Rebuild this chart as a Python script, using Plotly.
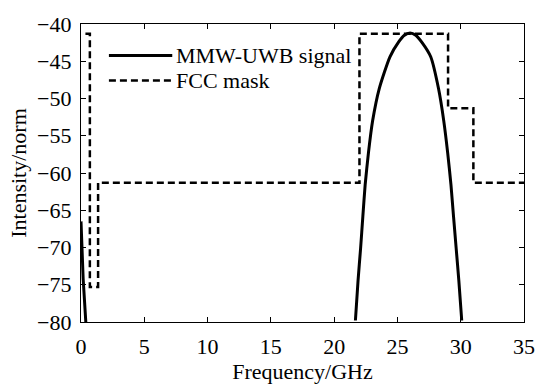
import plotly.graph_objects as go

# FCC mask (step corners, drawn with hv steps)
mask_x = [0.35, 0.7, 1.35, 22.0, 29.0, 31.0, 35.0]
mask_y = [-41.3, -75.3, -61.3, -41.3, -51.3, -61.3, -61.3]

# MMW-UWB signal spectrum
sig_low_x = [0.0, 0.17, 0.38]
sig_low_y = [-66.5, -74.2, -80.0]
sig_x = [21.68, 21.89, 22.09, 22.27, 22.45, 22.71, 23.04, 23.56, 24.41, 25.1, 25.55, 26.0,
         26.45, 26.95, 27.63, 28.25, 28.66, 28.97, 29.23, 29.43, 29.64, 29.85, 30.08]
sig_y = [-79.8, -74.4, -70.1, -65.8, -61.6, -57.3, -53.0, -48.7, -44.4, -42.4, -41.5, -41.2,
         -41.5, -42.5, -44.4, -48.7, -53.0, -57.3, -61.6, -65.8, -70.1, -74.4, -79.8]

x_ticks = [0, 5, 10, 15, 20, 25, 30, 35]
y_ticks = [-80, -75, -70, -65, -60, -55, -50, -45, -40]
legend_names = ["MMW-UWB signal", "FCC mask"]

FONT = "Liberation Serif, Times New Roman, serif"
FS = 22

fig = go.Figure()
fig.add_trace(go.Scatter(x=sig_low_x, y=sig_low_y, mode="lines",
                         line=dict(color="black", width=3),
                         showlegend=False))
fig.add_trace(go.Scatter(x=sig_x, y=sig_y, mode="lines",
                         line=dict(color="black", width=3, shape="spline", smoothing=0.6),
                         showlegend=False))
fig.add_trace(go.Scatter(x=mask_x, y=mask_y, mode="lines",
                         line=dict(color="black", width=2.5, dash="7px,4px", shape="hv"),
                         showlegend=False))

# manual legend
leg = [(0.063, 0.894, "solid", 3), (0.063, 0.810, "7px,4px", 2.5)]
for (x0, yy, dash, w), name in zip(leg, legend_names):
    fig.add_shape(type="line", xref="paper", yref="paper",
                  x0=x0, x1=x0 + 0.143, y0=yy, y1=yy,
                  line=dict(color="black", width=w, dash=dash))
    fig.add_annotation(xref="paper", yref="paper", x=x0 + 0.148, y=yy,
                       text=name, showarrow=False, xanchor="left", yanchor="middle",
                       font=dict(family=FONT, size=FS, color="black"))

axis_common = dict(showgrid=False, zeroline=False, showline=True, linecolor="black",
                   linewidth=1.2, mirror="ticks", ticks="inside", ticklen=5,
                   tickcolor="black", tickfont=dict(family=FONT, size=FS, color="black"))

fig.update_layout(
    width=547, height=392,
    margin=dict(l=81, r=12, t=14, b=67),
    paper_bgcolor="white", plot_bgcolor="white",
    showlegend=False,
    xaxis=dict(range=[0, 35], tickvals=x_ticks, ticklabelstandoff=4,
               title=dict(text="Frequency/GHz", font=dict(family=FONT, size=FS, color="black"),
                          standoff=6),
               **axis_common),
    yaxis=dict(range=[-80, -40], tickvals=y_ticks, ticklabelstandoff=4,
               title=dict(text="Intensity/norm", font=dict(family=FONT, size=FS, color="black"),
                          standoff=4),
               **axis_common),
)

fig.write_html("out.html")
